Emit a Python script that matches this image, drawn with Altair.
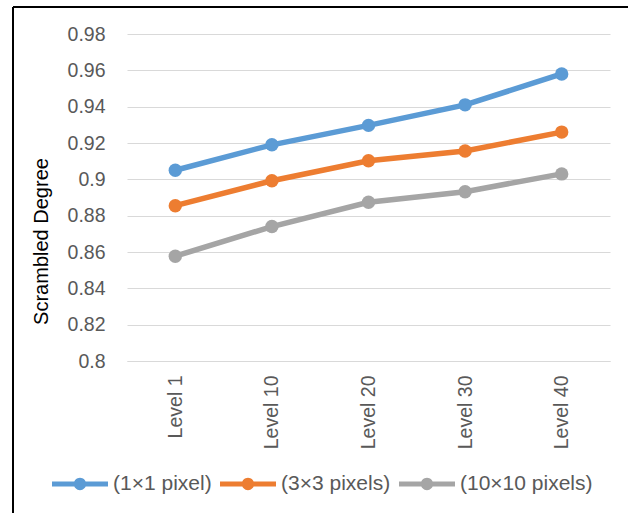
import altair as alt
import pandas as pd

# Scrambled degree per distortion level for three block sizes
levels = ["Level 1", "Level 10", "Level 20", "Level 30", "Level 40"]
series_names = ["(1×1 pixel)", "(3×3 pixels)", "(10×10 pixels)"]
values_1x1 = [0.905, 0.919, 0.9297, 0.941, 0.958]
values_3x3 = [0.8855, 0.8992, 0.9102, 0.9156, 0.926]
values_10x10 = [0.8577, 0.874, 0.8874, 0.8932, 0.9030]
colors = ["#5B9BD5", "#ED7D31", "#A5A5A5"]
y_ticks = [0.8, 0.82, 0.84, 0.86, 0.88, 0.9, 0.92, 0.94, 0.96, 0.98]

rows = []
for name, vals in zip(series_names, [values_1x1, values_3x3, values_10x10]):
    for lvl, v in zip(levels, vals):
        rows.append({"Level": lvl, "Series": name, "Degree": v})
df = pd.DataFrame(rows)

FONT = "Liberation Sans"
TEXT_GRAY = "#595959"
LABEL_SIZE = 19.5

# legend glyph: a thick line with a dot in the middle
legend_symbol = (
    "M-1,-0.09 L1,-0.09 L1,0.09 L-1,0.09 Z "
    "M0.22,0 A0.22,0.22 0 1,1 -0.22,0 A0.22,0.22 0 1,1 0.22,0 Z"
)

color_scale = alt.Scale(domain=series_names, range=colors)

x_enc = alt.X(
    "Level:N",
    sort=levels,
    scale=alt.Scale(padding=0.5),
    axis=alt.Axis(
        title=None,
        labelAngle=270,
        labelAlign="right",
        labelBaseline="middle",
        labelPadding=14,
        labelFont=FONT,
        labelFontSize=LABEL_SIZE,
        labelColor=TEXT_GRAY,
        ticks=False,
        domainColor="#D9D9D9",
        domainWidth=1.2,
        grid=False,
    ),
)
y_enc = alt.Y(
    "Degree:Q",
    scale=alt.Scale(domain=[0.8, 0.98], nice=False, zero=False),
    axis=alt.Axis(
        title="Scrambled Degree",
        titleFont=FONT,
        titleFontSize=20,
        titleFontWeight="normal",
        titleColor="#000000",
        titleAngle=270,
        titleAlign="center",
        titleBaseline="middle",
        titleX=-86,
        titleY=207,
        values=y_ticks,
        format="~g",
        labelFont=FONT,
        labelFontSize=LABEL_SIZE,
        labelColor=TEXT_GRAY,
        labelPadding=22,
        ticks=False,
        domain=False,
        grid=True,
        gridColor="#D9D9D9",
        gridWidth=1.2,
    ),
)

color_enc = alt.Color(
    "Series:N",
    scale=color_scale,
    sort=series_names,
    legend=alt.Legend(
        title=None,
        orient="none",
        legendX=-75,
        legendY=422,
        direction="horizontal",
        symbolType=legend_symbol,
        symbolSize=3136,
        symbolStrokeWidth=0,
        labelFont=FONT,
        labelFontSize=21,
        labelColor=TEXT_GRAY,
        labelOffset=5,
        columnPadding=8,
    ),
)

lines = alt.Chart(df).mark_line(strokeWidth=5.5).encode(
    x=x_enc, y=y_enc, color=color_enc
)
points = alt.Chart(df).mark_point(filled=True, size=180, opacity=1).encode(
    x=x_enc, y=y_enc, color=alt.Color("Series:N", scale=color_scale, legend=None)
)

# outer frame around the figure
frame_left = alt.Chart(df).mark_rule(color="#000000", strokeWidth=2).encode(
    x=alt.value(-114), y=alt.value(-27), y2=alt.value(520)
)
frame_top = alt.Chart(df).mark_rule(color="#000000", strokeWidth=2).encode(
    x=alt.value(-114), x2=alt.value(540), y=alt.value(-27)
)

chart = (
    alt.layer(lines, points, frame_left, frame_top)
    .properties(
        width=483,
        height=327,
        autosize=alt.AutoSizeParams(type="none"),
        padding={"left": 127, "top": 34, "right": 18, "bottom": 152},
        background="#FFFFFF",
    )
    .configure_view(stroke=None)
)

chart.save("out.html", embed_options={"renderer": "svg", "actions": False})
